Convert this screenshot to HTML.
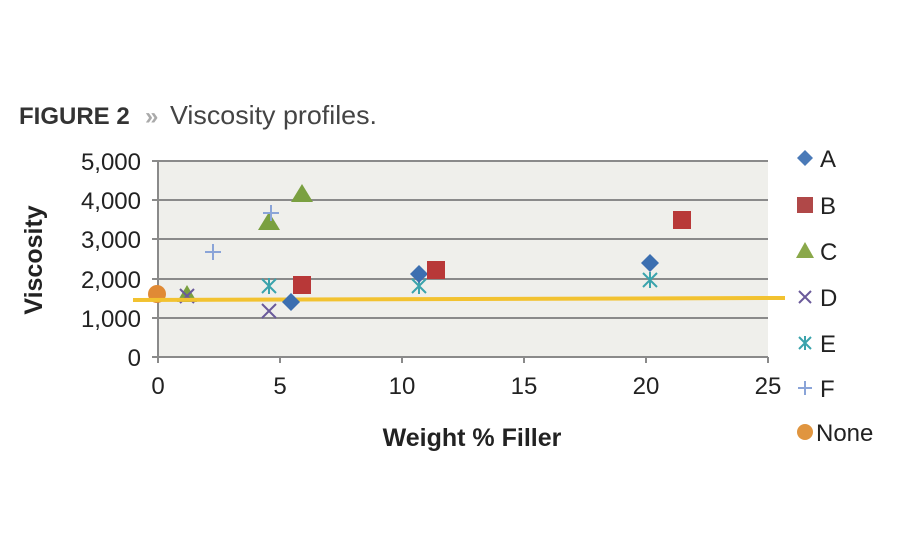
<!DOCTYPE html>
<html><head><style>
body{margin:0;background:#fff;}
svg text{font-family:"Liberation Sans",sans-serif;}
</style></head><body>
<svg width="900" height="550" viewBox="0 0 900 550" xmlns="http://www.w3.org/2000/svg">
<text x="19" y="124" font-size="24" font-weight="bold" fill="#333">FIGURE 2</text>
<text x="145" y="124" font-size="24" fill="#aaa" font-weight="bold">»</text>
<text x="170" y="124" font-size="26" fill="#444" textLength="207" lengthAdjust="spacingAndGlyphs">Viscosity profiles.</text>
<rect x="158" y="161" width="610" height="196" fill="#efefeb"/>
<g stroke="#8a8a8a" stroke-width="2">
<line x1="152" y1="161" x2="768" y2="161"/>
<line x1="152" y1="200" x2="768" y2="200"/>
<line x1="152" y1="239" x2="768" y2="239"/>
<line x1="152" y1="279" x2="768" y2="279"/>
<line x1="152" y1="318" x2="768" y2="318"/>
<line x1="152" y1="357" x2="768" y2="357"/>
<line x1="158" y1="161" x2="158" y2="363"/>
<line x1="280" y1="357" x2="280" y2="363"/>
<line x1="402" y1="357" x2="402" y2="363"/>
<line x1="524" y1="357" x2="524" y2="363"/>
<line x1="646" y1="357" x2="646" y2="363"/>
<line x1="768" y1="357" x2="768" y2="363"/>
</g>
<g font-size="24" fill="#222" text-anchor="end">
<text x="141" y="170">5,000</text>
<text x="141" y="209">4,000</text>
<text x="141" y="248">3,000</text>
<text x="141" y="288">2,000</text>
<text x="141" y="327">1,000</text>
<text x="141" y="366">0</text>
</g>
<g font-size="24" fill="#222" text-anchor="middle">
<text x="158" y="394">0</text>
<text x="280" y="394">5</text>
<text x="402" y="394">10</text>
<text x="524" y="394">15</text>
<text x="646" y="394">20</text>
<text x="768" y="394">25</text>
</g>
<text x="472" y="446" font-size="25" font-weight="bold" text-anchor="middle" fill="#222">Weight % Filler</text>
<text transform="translate(42,260) rotate(-90)" font-size="25" font-weight="bold" text-anchor="middle" fill="#222">Viscosity</text>
<circle cx="157" cy="294" r="9" fill="#e08a35"/>
<g fill="#7aa040">
<polygon points="187,285 197,302 177,302"/>
<polygon points="269,212 280,230 258,230"/>
<polygon points="302,184 313,202 291,202"/>
</g>
<g stroke="#6a5a9a" stroke-width="2">
<path d="M180,289 L194,303 M194,289 L180,303"/>
<path d="M262,304 L276,318 M276,304 L262,318"/>
</g>
<g stroke="#8aa4d8" stroke-width="2">
<path d="M213,244 V260 M205,252 H221"/>
<path d="M271,205 V221 M263,213 H279"/>
</g>
<g stroke="#3aa3ac" stroke-width="2">
<path d="M262,279 L276,293 M276,279 L262,293 M269,278 V294"/>
<path d="M412,279 L426,293 M426,279 L412,293 M419,278 V294"/>
<path d="M643,273 L657,287 M657,273 L643,287 M650,272 V288"/>
</g>
<rect x="133" y="297" width="652" height="4" fill="#f2c230" transform="rotate(-0.18 460 299)"/>
<g fill="#3c6fb0">
<polygon points="291,293 300,302 291,311 282,302"/>
<polygon points="419,265 428,274 419,283 410,274"/>
<polygon points="650,254 659,263 650,272 641,263"/>
</g>
<g fill="#b83838">
<rect x="293" y="276" width="18" height="18"/>
<rect x="427" y="261" width="18" height="18"/>
<rect x="673" y="211" width="18" height="18"/>
</g>
<g font-size="24" fill="#222">
<polygon points="805,150 813,158 805,166 797,158" fill="#4a7ab8"/><text x="820" y="167">A</text>
<rect x="797" y="197" width="16" height="16" fill="#b04848"/><text x="820" y="214">B</text>
<polygon points="805,242 814,258 796,258" fill="#8aa84a"/><text x="820" y="260">C</text>
<path d="M799,291 L811,303 M811,291 L799,303" stroke="#6a5a9a" stroke-width="2"/><text x="820" y="306">D</text>
<path d="M799,337 L811,349 M811,337 L799,349 M805,336 V350" stroke="#3aa3ac" stroke-width="2"/><text x="820" y="352">E</text>
<path d="M805,381 V395 M798,388 H812" stroke="#8aa4d8" stroke-width="2"/><text x="820" y="397">F</text>
<circle cx="805" cy="432" r="8" fill="#e0953f"/><text x="816" y="441">None</text>
</g>
</svg>
</body></html>
